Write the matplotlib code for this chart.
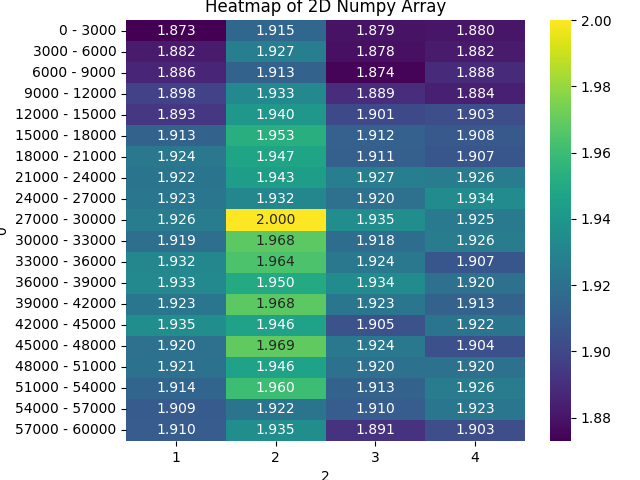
import numpy as np
import matplotlib
matplotlib.use("Agg")
import matplotlib.pyplot as plt
import seaborn as sns

row_labels = [f"{i*3000} - {(i+1)*3000}" for i in range(20)]
col_labels = ["1", "2", "3", "4"]

col1 = [1.873, 1.882, 1.886, 1.898, 1.893, 1.913, 1.924, 1.922, 1.923, 1.926,
        1.919, 1.932, 1.933, 1.923, 1.935, 1.920, 1.921, 1.914, 1.909, 1.910]
col2 = [1.915, 1.927, 1.913, 1.933, 1.940, 1.953, 1.947, 1.943, 1.932, 2.000,
        1.968, 1.964, 1.950, 1.968, 1.946, 1.969, 1.946, 1.960, 1.922, 1.935]
col3 = [1.879, 1.878, 1.874, 1.889, 1.901, 1.912, 1.911, 1.927, 1.920, 1.935,
        1.918, 1.924, 1.934, 1.923, 1.905, 1.924, 1.920, 1.913, 1.910, 1.891]
col4 = [1.880, 1.882, 1.888, 1.884, 1.903, 1.908, 1.907, 1.926, 1.934, 1.925,
        1.926, 1.907, 1.920, 1.913, 1.922, 1.904, 1.920, 1.926, 1.923, 1.903]

data = np.array([col1, col2, col3, col4]).T

fig = plt.figure(figsize=(6.4, 4.8), dpi=100)
W, H = 640, 480
ax = fig.add_axes([126 / W, 39 / H, 399 / W, 421 / H])
cax = fig.add_axes([550 / W, 39 / H, 21 / W, 421 / H])

sns.heatmap(data, annot=True, fmt=".3f", cmap="viridis",
            xticklabels=col_labels, yticklabels=row_labels,
            ax=ax, cbar_ax=cax)
ax.set_title("Heatmap of 2D Numpy Array")
ax.set_xlabel("2")
ax.set_ylabel("0")
ax.tick_params(axis="y", rotation=0)
cax.set_yticks([1.88, 1.90, 1.92, 1.94, 1.96, 1.98, 2.00])

fig.savefig("out.png", dpi=100)
